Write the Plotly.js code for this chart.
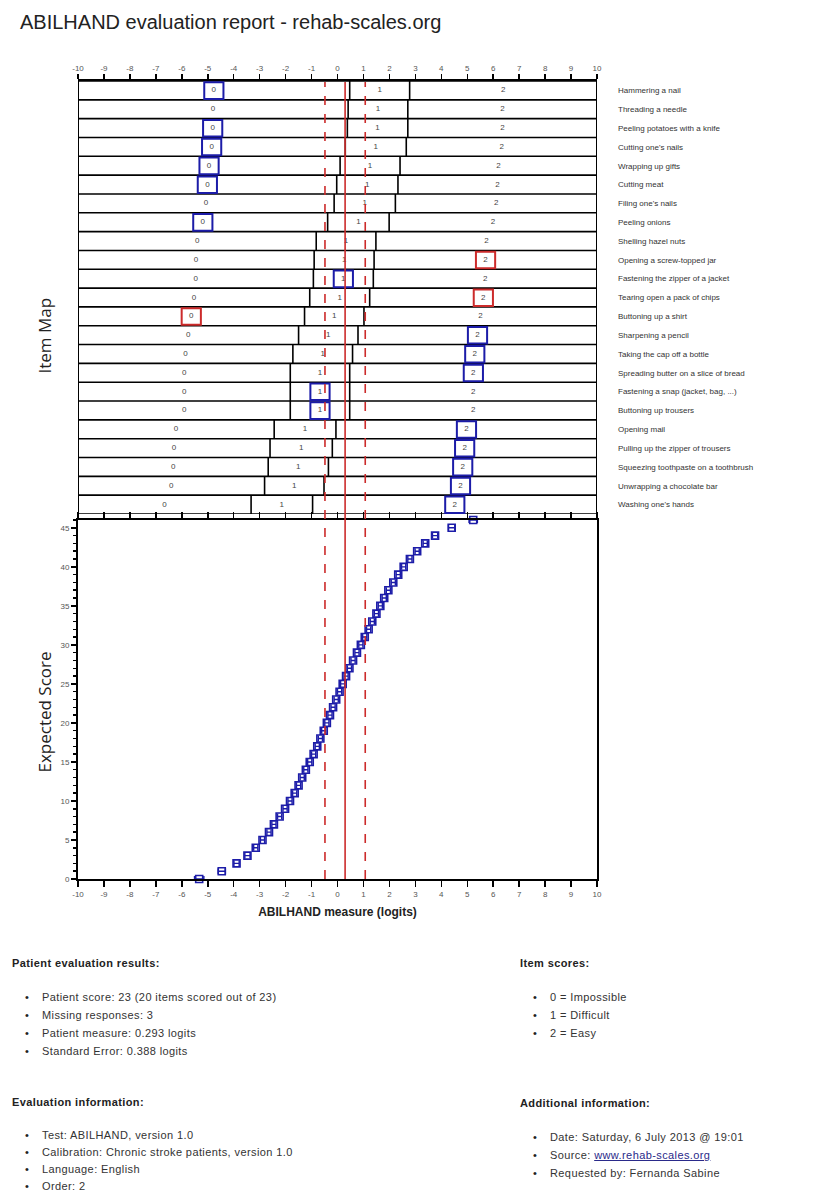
<!DOCTYPE html>
<html><head><meta charset="utf-8">
<script src="https://cdn.plot.ly/plotly-3.0.1.min.js"></script>
<style>
body{margin:0;background:#fff;}
#wrap{position:relative;width:823px;height:1194px;overflow:hidden;background:#fff;}
#chart{position:absolute;left:0;top:0;width:823px;height:1194px;}
.blk{position:absolute;font-family:"Liberation Sans",Arial,sans-serif;font-size:11px;color:#333;letter-spacing:0.4px;}
.hd{font-weight:bold;height:18px;line-height:18px;color:#222;}
.blk ul{margin:16px 0 0 30px;padding:0;list-style:none;}
.blk li{position:relative;height:18px;line-height:18px;white-space:nowrap;}
.blk.tight li{height:17px;line-height:17px;}
.blk li:before{content:"\2022";position:absolute;left:-17px;color:#222;}
.blk a{color:#2a2a8a;text-decoration:underline;}
</style></head>
<body>
<div id="wrap">
<div id="chart"></div>
<div class="blk" style="left:12px;top:954px;">
  <div class="hd">Patient evaluation results:</div>
  <ul>
    <li>Patient score: 23 (20 items scored out of 23)</li>
    <li>Missing responses: 3</li>
    <li>Patient measure: 0.293 logits</li>
    <li>Standard Error: 0.388 logits</li>
  </ul>
</div>
<div class="blk tight" style="left:12px;top:1093px;">
  <div class="hd">Evaluation information:</div>
  <ul>
    <li>Test: ABILHAND, version 1.0</li>
    <li>Calibration: Chronic stroke patients, version 1.0</li>
    <li>Language: English</li>
    <li>Order: 2</li>
  </ul>
</div>
<div class="blk" style="left:520px;top:954px;">
  <div class="hd">Item scores:</div>
  <ul>
    <li>0 = Impossible</li>
    <li>1 = Difficult</li>
    <li>2 = Easy</li>
  </ul>
</div>
<div class="blk" style="left:520px;top:1094px;">
  <div class="hd">Additional information:</div>
  <ul>
    <li>Date: Saturday, 6 July 2013 @ 19:01</li>
    <li>Source: <a href="#">www.rehab-scales.org</a></li>
    <li>Requested by: Fernanda Sabine</li>
  </ul>
</div>
</div>
<script>
// ---------- data ----------
const items = ["Hammering a nail","Threading a needle","Peeling potatoes with a knife","Cutting one's nails",
  "Wrapping up gifts","Cutting meat","Filing one's nails","Peeling onions","Shelling hazel nuts",
  "Opening a screw-topped jar","Fastening the zipper of a jacket","Tearing open a pack of chips",
  "Buttoning up a shirt","Sharpening a pencil","Taking the cap off a bottle",
  "Spreading butter on a slice of bread","Fastening a snap (jacket, bag, ...)","Buttoning up trousers",
  "Opening mail","Pulling up the zipper of trousers","Squeezing toothpaste on a toothbrush",
  "Unwrapping a chocolate bar","Washing one's hands"];
const thr1 = [0.47,0.41,0.38,0.30,0.10,-0.03,-0.13,-0.38,-0.82,-0.90,-0.93,-1.07,-1.27,-1.50,-1.72,-1.82,-1.82,-1.82,-2.44,-2.60,-2.67,-2.81,-3.33];
const thr2 = [2.78,2.71,2.71,2.65,2.41,2.33,2.23,1.99,1.48,1.41,1.38,1.24,1.02,0.79,0.58,0.47,0.47,0.47,-0.06,-0.20,-0.35,-0.52,-0.96];
const responses  = [0,null,0,0,0,0,null,0,null,2,1,2,0,2,2,2,1,1,2,2,2,2,2];
const unexpected = [0,0,0,0,0,0,0,0,0,1,0,1,1,0,0,0,0,0,0,0,0,0,0];
const patientMeasure = 0.293;
const standardError = 0.388;
const scores = [0,1,2,3,4,5,6,7,8,9,10,11,12,13,14,15,16,17,18,19,20,21,22,23,24,25,26,27,28,29,30,31,32,33,34,35,36,37,38,39,40,41,42,43,44,45,46];
const scoreMeasures = [-5.33,-4.46,-3.89,-3.47,-3.15,-2.89,-2.64,-2.45,-2.23,-2.02,-1.83,-1.65,-1.50,-1.36,-1.22,-1.07,-0.92,-0.78,-0.66,-0.53,-0.41,-0.29,-0.17,-0.05,0.08,0.20,0.33,0.46,0.60,0.75,0.90,1.05,1.20,1.34,1.50,1.65,1.80,1.96,2.15,2.34,2.55,2.79,3.07,3.38,3.76,4.40,5.23];
const scoreErrors = [0.18,0.14,0.10,0.10,0.08,0.08,0.08,0.08,0.08,0.08,0.08,0.08,0.08,0.08,0.08,0.08,0.08,0.08,0.08,0.08,0.08,0.08,0.08,0.08,0.08,0.08,0.08,0.08,0.08,0.08,0.08,0.08,0.08,0.08,0.08,0.08,0.08,0.08,0.08,0.08,0.08,0.08,0.08,0.08,0.10,0.12,0.16];
const xTicks = [-10,-9,-8,-7,-6,-5,-4,-3,-2,-1,0,1,2,3,4,5,6,7,8,9,10];
const xTickLabels = ["-10","-9","-8","-7","-6","-5","-4","-3","-2","-1","0","1","2","3","4","5","6","7","8","9","10"];
const scoreTicks = [0,5,10,15,20,25,30,35,40,45];
const categoryLabels = ["0","1","2"];

// ---------- layout helpers ----------
const W = 823, H = 1194;
const px = p => p / W;
const py = p => 1 - p / H;
const BLUE = '#1c1ca8', RED = '#cc2b2b';
const FONT = '"Liberation Sans", Arial, sans-serif';

const n = items.length;
const shapes = [];
for (let i = 0; i <= n; i++) {
  shapes.push({type:'line', xref:'x', yref:'y', x0:-10, x1:10, y0:i, y1:i, line:{color:'#000', width:1.6}});
}
shapes.push({type:'line', xref:'x', yref:'y', x0:-10, x1:-10, y0:0, y1:n, line:{color:'#000', width:2}});
shapes.push({type:'line', xref:'x', yref:'y', x0:10, x1:10, y0:0, y1:n, line:{color:'#000', width:2}});
for (let i = 0; i < n; i++) {
  shapes.push({type:'line', xref:'x', yref:'y', x0:thr1[i], x1:thr1[i], y0:i, y1:i+1, line:{color:'#000', width:1.6}});
  shapes.push({type:'line', xref:'x', yref:'y', x0:thr2[i], x1:thr2[i], y0:i, y1:i+1, line:{color:'#000', width:1.6}});
}
const lx = [], ly = [], lt = [];
const centres = [];
for (let i = 0; i < n; i++) {
  const c = [(-10 + thr1[i]) / 2, (thr1[i] + thr2[i]) / 2, (thr2[i] + 10) / 2];
  centres.push(c);
  for (let k = 0; k < 3; k++) { lx.push(c[k]); ly.push(i + 0.5); lt.push(categoryLabels[k]); }
}
for (let i = 0; i < n; i++) {
  if (responses[i] === null) continue;
  const c = centres[i][responses[i]];
  shapes.push({type:'rect', xref:'x', yref:'y', x0:c-0.37, x1:c+0.37, y0:i+0.07, y1:i+0.95,
    line:{color: unexpected[i] ? RED : BLUE, width:2}, fillcolor:'rgba(0,0,0,0)'});
}
const lo = patientMeasure - 2*standardError, hi = patientMeasure + 2*standardError;
shapes.push({type:'line', xref:'x', yref:'paper', x0:patientMeasure, x1:patientMeasure, y0:py(879), y1:py(82), line:{color:RED, width:1.6}});
shapes.push({type:'line', xref:'x', yref:'paper', x0:lo, x1:lo, y0:py(879), y1:py(82), line:{color:RED, width:1.6, dash:'dash'}});
shapes.push({type:'line', xref:'x', yref:'paper', x0:hi, x1:hi, y0:py(879), y1:py(82), line:{color:RED, width:1.6, dash:'dash'}});

const traces = [
  {type:'scatter', mode:'text', x:lx, y:ly, text:lt, xaxis:'x', yaxis:'y',
   textfont:{family:FONT, size:8, color:'#444'}, cliponaxis:false, hoverinfo:'skip', showlegend:false},
  {type:'scatter', mode:'markers', x:scoreMeasures, y:scores, xaxis:'x2', yaxis:'y2',
   marker:{symbol:'square-open', size:7, color:BLUE, line:{width:1.6, color:BLUE}},
   error_x:{type:'data', array:scoreErrors, visible:true, color:BLUE, thickness:1.4, width:3},
   cliponaxis:false, showlegend:false}
];

const tickFont = {family:FONT, size:8, color:'#555'};
const layout = {
  width: W, height: H,
  margin:{l:0, r:0, t:0, b:0},
  paper_bgcolor:'rgba(0,0,0,0)', plot_bgcolor:'rgba(0,0,0,0)',
  showlegend:false,
  title:{text:'ABILHAND evaluation report - rehab-scales.org', x:px(20), xanchor:'left', xref:'paper',
         y:py(22), yref:'paper', yanchor:'middle', font:{family:FONT, size:20, color:'#222'}},
  xaxis:{domain:[px(78), px(597)], range:[-10,10], anchor:'y', side:'top', tickvals:xTicks, ticktext:xTickLabels,
         ticks:'outside', ticklen:5, tickwidth:1.5, tickcolor:'#000', showline:true, linewidth:2, linecolor:'#000',
         showgrid:false, zeroline:false, tickfont:tickFont, fixedrange:true},
  yaxis:{domain:[py(514), py(81)], range:[n, 0], anchor:'x', side:'right',
         tickvals: items.map((_, i) => i + 0.5), ticktext: items, ticks:'', showline:false,
         showgrid:false, zeroline:false, tickfont:{family:FONT, size:8, color:'#333'}, ticklabelstandoff:20, fixedrange:true},
  xaxis2:{domain:[px(78), px(597)], range:[-10,10], anchor:'y2', tickvals:xTicks, ticktext:xTickLabels,
          ticks:'outside', ticklen:6, tickwidth:1.5, tickcolor:'#000', showline:true, linewidth:2, linecolor:'#000',
          mirror:'ticks', showgrid:false, zeroline:false, tickfont:tickFont, fixedrange:true,
          title:{text:'<b>ABILHAND measure (logits)</b>', font:{family:FONT, size:12, color:'#222'}, standoff:10}},
  yaxis2:{domain:[py(879), py(520)], range:[0,46], anchor:'x2', tickvals:scoreTicks,
          ticks:'outside', ticklen:5, tickwidth:1.5, tickcolor:'#000', showline:true, linewidth:2, linecolor:'#000',
          mirror:true, showgrid:false, zeroline:false, tickfont:tickFont, fixedrange:true,
          minor:{dtick:1, ticks:'outside', ticklen:3, tickwidth:1.5, tickcolor:'#000', showgrid:false}},
  shapes: shapes,
  annotations:[
    {text:'Item Map', xref:'paper', yref:'paper', x:px(30), y:py(296), textangle:-90, showarrow:false,
     font:{family:'"Open Sans", "Noto Sans", sans-serif', size:17, color:'#222'}},
    {text:'Expected Score', xref:'paper', yref:'paper', x:px(30), y:py(712), textangle:-90, showarrow:false,
     font:{family:'"Open Sans", "Noto Sans", sans-serif', size:17, color:'#222'}}
  ]
};
Plotly.newPlot('chart', traces, layout, {displayModeBar:false, staticPlot:true});
</script>
</body></html>
